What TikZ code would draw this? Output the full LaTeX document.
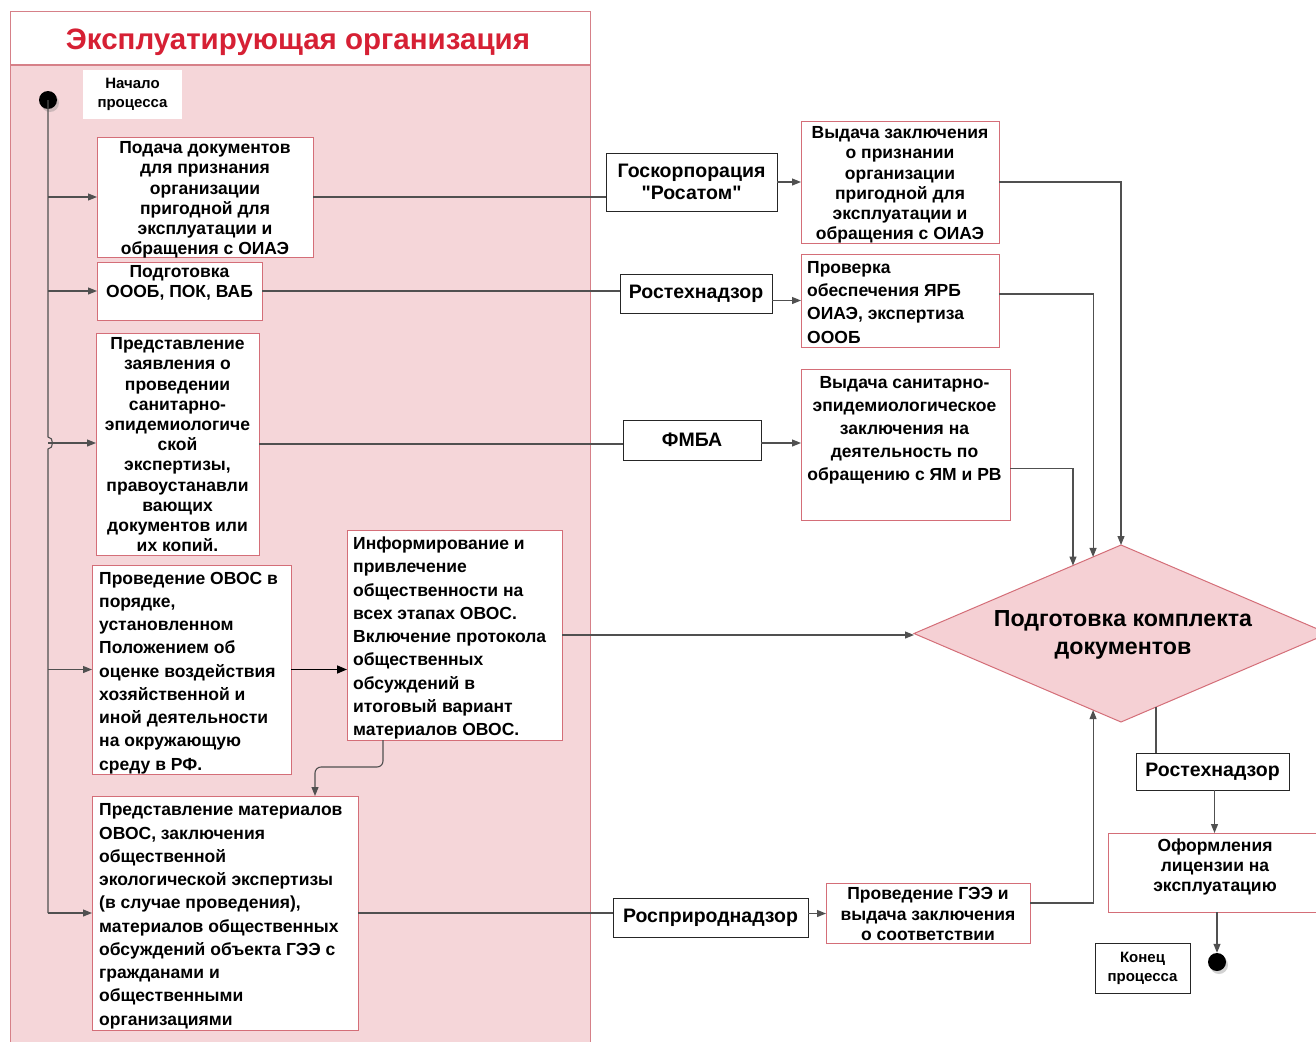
\documentclass[tikz,border=0pt]{standalone}
\usepackage{fontspec}
\setmainfont{Liberation Sans}
\usetikzlibrary{arrows.meta,shapes.geometric,calc,shadows}
\definecolor{lanefill}{RGB}{245,214,217}
\definecolor{laneborder}{RGB}{214,128,136}
\definecolor{boxred}{RGB}{212,110,120}
\definecolor{titlered}{RGB}{214,32,52}
\definecolor{diafill}{RGB}{245,208,212}
\definecolor{linegray}{RGB}{80,80,80}
\newcommand\sq{\XeTeXglyph\XeTeXcharglyph"22\relax}
\begin{document}
\begin{tikzpicture}[x=1pt,y=-1pt,
  rbox/.style={draw=boxred, fill=white, line width=0.9pt, inner sep=0pt, outer sep=0pt},
  kbox/.style={draw=black!85, fill=white, line width=1pt, inner sep=0pt, outer sep=0pt,
    font=\fontsize{19.5}{22.5}\selectfont\bfseries, align=center},
  txt/.style={inner sep=0pt, font=\fontsize{17.5}{20.2}\selectfont\bfseries, align=center,
    execute at begin node=\strut},
  ctxt/.style={inner sep=0pt, font=\fontsize{17.5}{23.1}\selectfont\bfseries, align=center,
    execute at begin node=\strut},
  ltxt/.style={inner sep=0pt, font=\fontsize{17.5}{23.25}\selectfont\bfseries, align=left,
    execute at begin node=\strut},
  conn/.style={draw=linegray, line width=1.1pt},
  arr/.style={conn, -{Triangle[length=9pt,width=7pt]}},
  arrk/.style={draw=black, line width=1.6pt, -{Triangle[length=10pt,width=8pt]}},
  dot/.style={circle, fill=black, minimum size=18pt, inner sep=0pt,
    drop shadow={shadow xshift=2pt, shadow yshift=-3pt, opacity=0.35}}
]
\useasboundingbox (0,0) rectangle (1316,1041);
\fill[white] (0,0) rectangle (1316,1041);

% swimlane
\draw[draw=laneborder, fill=lanefill, line width=1pt] (10,12) rectangle (590,1048);
\draw[draw=laneborder, fill=white, line width=1pt] (10,12) rectangle (590,65);
\node[font=\fontsize{29.5}{33}\selectfont\bfseries, text=titlered] (title) at (298,42) {Эксплуатирующая организация};

% start
\node[dot] (start) at (48,100) {};
\node[fill=white, minimum width=99pt, minimum height=49pt, inner sep=0pt, align=center,
  font=\fontsize{15}{19}\selectfont\bfseries] (startlbl) at (132.5,94.5) {\rule{0pt}{6pt}Начало\\процесса};

% left column boxes
\node[rbox, minimum width=216pt, minimum height=120pt] (b1) at (205,197) {};
\node[txt, anchor=north] (b1t) at (205,141.4) {Подача документов\\для признания\\организации\\пригодной для\\эксплуатации и\\обращения с ОИАЭ};

\node[rbox, minimum width=165pt, minimum height=58pt] (b2) at (179.5,291) {};
\node[txt, anchor=north] (b2t) at (179.5,265.4) {Подготовка\\ОООБ, ПОК, ВАБ};

\node[rbox, minimum width=163pt, minimum height=222pt] (b3) at (177.5,444) {};
\node[txt, anchor=north] (b3t) at (177.5,337.4) {Представление\\заявления о\\проведении\\санитарно-\\эпидемиологиче\\ской\\экспертизы,\\правоустанавли\\вающих\\документов или\\их копий.};

\node[rbox, minimum width=199pt, minimum height=209pt] (b5) at (191.5,669.5) {};
\node[ltxt, anchor=north west] (b5t) at (99,571.7) {Проведение ОВОС в\\порядке,\\установленном\\Положением об\\оценке воздействия\\хозяйственной и\\иной деятельности\\на окружающую\\среду в РФ.};

\node[rbox, minimum width=215pt, minimum height=210pt] (b6) at (454.5,635) {};
\node[ltxt, anchor=north west] (b6t) at (353,536.7) {Информирование и\\привлечение\\общественности на\\всех этапах ОВОС.\\Включение протокола\\общественных\\обсуждений в\\итоговый вариант\\материалов ОВОС.};

\node[rbox, minimum width=266pt, minimum height=234pt] (b7) at (225,913) {};
\node[ltxt, anchor=north west] (b7t) at (99,803.7) {Представление материалов\\ОВОС, заключения\\общественной\\экологической экспертизы\\(в случае проведения),\\материалов общественных\\обсуждений объекта ГЭЭ с\\гражданами и\\общественными\\организациями};

% agencies
\node[kbox, minimum width=171pt, minimum height=58pt] (ros) at (691.5,182) {Госкорпорация\\\sq Росатом\sq};
\node[kbox, minimum width=152pt, minimum height=39pt] (rt1) at (696,293.5) {Ростехнадзор};
\node[kbox, minimum width=138pt, minimum height=40pt] (fmba) at (692,440) {ФМБА};
\node[kbox, minimum width=195pt, minimum height=39pt] (rpn) at (710.5,917.5) {Росприроднадзор};
\node[kbox, minimum width=153pt, minimum height=37pt] (rt2) at (1212.5,771.5) {Ростехнадзор};

% results
\node[rbox, minimum width=198pt, minimum height=122pt] (r1) at (900,182) {};
\node[txt, anchor=north] (r1t) at (900,126.4) {Выдача заключения\\о признании\\организации\\пригодной для\\эксплуатации и\\обращения с ОИАЭ};

\node[rbox, minimum width=198pt, minimum height=93pt] (r2) at (900,300.5) {};
\node[ltxt, anchor=north west] (r2t) at (807,261.2) {Проверка\\обеспечения ЯРБ\\ОИАЭ, экспертиза\\ОООБ};

\node[rbox, minimum width=209pt, minimum height=151pt] (r3) at (905.5,444.5) {};
\node[ctxt, anchor=north] (r3t) at (904.5,376.2) {Выдача санитарно-\\эпидемиологическое\\заключения на\\деятельность по\\обращению с ЯМ и РВ};

\node[rbox, minimum width=204pt, minimum height=60pt] (r4) at (928,913) {};
\node[txt, anchor=north] (r4t) at (928,887.4) {Проведение ГЭЭ и\\выдача заключения\\о соответствии};

% diamond
\node[diamond, draw=boxred, fill=diafill, line width=1pt, minimum width=414pt, minimum height=177pt, inner sep=0pt, outer sep=0pt] (dia) at (1121,633.5) {};
\node[font=\fontsize{23.2}{28}\selectfont\bfseries, align=center] (diat) at (1123,635) {Подготовка комплекта\\документов};

% license and end
\node[rbox, minimum width=214pt, minimum height=79pt] (lic) at (1215,872.5) {};
\node[txt, anchor=north] (lict) at (1215,838.4) {Оформления\\лицензии на\\эксплуатацию};
\node[dot] (endd) at (1217,962) {};
\node[draw=black!85, fill=white, line width=1pt, minimum width=95pt, minimum height=50pt, inner sep=0pt, align=center,
  font=\fontsize{15}{19}\selectfont\bfseries] (endlbl) at (1142.5,968) {\rule{0pt}{5pt}Конец\\процесса};

% spine
\coordinate (j1) at (48,197);
\coordinate (j2) at (48,291);
\coordinate (j3) at (48,443);
\coordinate (j5) at (48,669.5);
\coordinate (j7) at (48,913);
\draw[conn] (start.center) -- (48,437) .. controls (54,437) and (54,449) .. (48,449) -- (j7);
\draw[arr] (j1) -- (j1 -| b1.west);
\draw[arr] (j2) -- (j2 -| b2.west);
\draw[arr] (j3) -- (j3 -| b3.west);
\draw[arr] (j5) -- (j5 -| b5.west);
\draw[arr] (j7) -- (j7 -| b7.west);

% box to agency
\draw[conn] (b1.east) -- (b1.east -| ros.west);
\draw[conn] (b2.east) -- (b2.east -| rt1.west);
\draw[conn] (b3.east) -- (b3.east -| fmba.west);
\draw[conn] (b7.east) -- (b7.east -| rpn.west);

% agency to result
\draw[arr] (ros.east) -- (ros.east -| r1.west);
\draw[arr] ([yshift=-7pt]rt1.east) -- ([yshift=-7pt]rt1.east -| r2.west);
\draw[arr] ([yshift=-3pt]fmba.east) -- ([yshift=-3pt]fmba.east -| r3.west);
\draw[arr] ([yshift=4pt]rpn.east) -- ([yshift=4pt]rpn.east -| r4.west);

% inner flows
\draw[arrk] (b5.east) -- (b5.east -| b6.west);
\draw[arr, rounded corners=6pt] ([xshift=36pt]b6.south west) -- ++(0,27) -| ([xshift=223pt]b7.north west);

% to diamond
\draw[arr] (r1.east) -| (dia.north);
\draw[arr] ([yshift=6.5pt]r2.east) -| ($(dia.west)!0.865!(dia.north)$);
\draw[arr] ([yshift=-24pt]r3.east) -| ($(dia.west)!0.768!(dia.north)$);
\draw[arr] (b6.east) -- (b6.east -| dia.west);
\draw[arr] ([yshift=10pt]r4.east) -| ($(dia.west)!0.865!(dia.south)$);

% from diamond
\coordinate (dq) at ($(dia.south)!0.169!(dia.east)$);
\draw[conn] (dq) -- (dq |- rt2.north);
\draw[arr] ([xshift=2pt]rt2.south) -- ([xshift=2pt]rt2.south |- lic.north);
\draw[arr] (endd |- lic.south) -- (endd.north);
\end{tikzpicture}
\end{document}
